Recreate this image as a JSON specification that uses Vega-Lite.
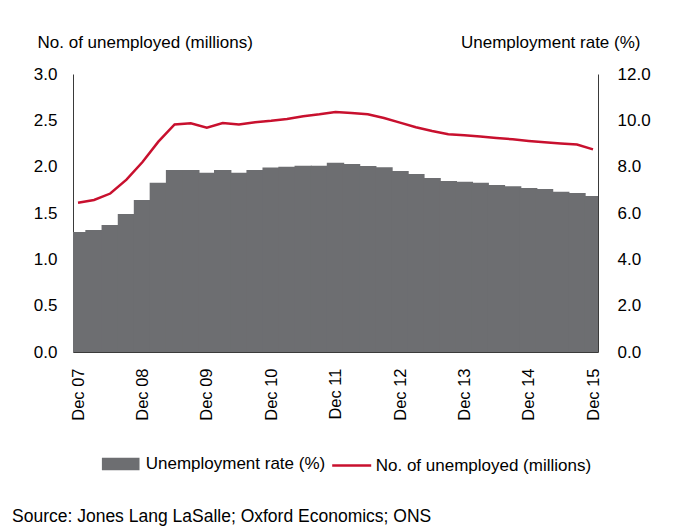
{
  "$schema": "https://vega.github.io/schema/vega-lite/v6.json",
  "width": 525,
  "height": 278,
  "autosize": {"type": "none"},
  "padding": {"left": 73, "top": 74, "right": 76, "bottom": 177},
  "background": "white",
  "config": {
    "view": {"stroke": null},
    "font": "Liberation Sans",
    "axis": {
      "grid": false,
      "ticks": false,
      "tickSize": 0,
      "domainColor": "#3a3a3a",
      "domainWidth": 1,
      "labelFont": "Liberation Sans",
      "labelFontSize": 17,
      "labelColor": "#000",
      "labelFlush": false,
      "labelOverlap": false,
      "labelBound": false,
      "titleFont": "Liberation Sans",
      "titleFontSize": 17,
      "titleFontWeight": "normal",
      "titleColor": "#000"
    },
    "legend": {
      "labelFont": "Liberation Sans",
      "labelFontSize": 17,
      "labelColor": "#000",
      "labelLimit": 0,
      "padding": 0
    }
  },
  "title": {
    "text": "Source: Jones Lang LaSalle; Oxford Economics; ONS",
    "orient": "bottom",
    "anchor": "start",
    "frame": "group",
    "dx": -61,
    "offset": 34,
    "font": "Liberation Sans",
    "fontSize": 17.5,
    "fontWeight": "normal",
    "color": "#000"
  },
  "data": {
    "values": [
      {"date": "2007-12-01", "rate": 5.18, "unemployed": 1.61},
      {"date": "2008-03-01", "rate": 5.27, "unemployed": 1.64},
      {"date": "2008-06-01", "rate": 5.48, "unemployed": 1.71},
      {"date": "2008-09-01", "rate": 5.96, "unemployed": 1.86},
      {"date": "2008-12-01", "rate": 6.56, "unemployed": 2.05},
      {"date": "2009-03-01", "rate": 7.31, "unemployed": 2.27},
      {"date": "2009-06-01", "rate": 7.86, "unemployed": 2.455},
      {"date": "2009-09-01", "rate": 7.86, "unemployed": 2.468},
      {"date": "2009-12-01", "rate": 7.74, "unemployed": 2.42},
      {"date": "2010-03-01", "rate": 7.86, "unemployed": 2.47},
      {"date": "2010-06-01", "rate": 7.74, "unemployed": 2.455},
      {"date": "2010-09-01", "rate": 7.86, "unemployed": 2.48},
      {"date": "2010-12-01", "rate": 7.96, "unemployed": 2.495},
      {"date": "2011-03-01", "rate": 8.0, "unemployed": 2.515},
      {"date": "2011-06-01", "rate": 8.04, "unemployed": 2.545},
      {"date": "2011-09-01", "rate": 8.04, "unemployed": 2.565},
      {"date": "2011-12-01", "rate": 8.17, "unemployed": 2.59},
      {"date": "2012-03-01", "rate": 8.11, "unemployed": 2.58},
      {"date": "2012-06-01", "rate": 8.03, "unemployed": 2.565},
      {"date": "2012-09-01", "rate": 7.97, "unemployed": 2.525},
      {"date": "2012-12-01", "rate": 7.81, "unemployed": 2.475},
      {"date": "2013-03-01", "rate": 7.68, "unemployed": 2.425},
      {"date": "2013-06-01", "rate": 7.51, "unemployed": 2.385},
      {"date": "2013-09-01", "rate": 7.38, "unemployed": 2.35},
      {"date": "2013-12-01", "rate": 7.35, "unemployed": 2.34},
      {"date": "2014-03-01", "rate": 7.31, "unemployed": 2.325},
      {"date": "2014-06-01", "rate": 7.21, "unemployed": 2.31},
      {"date": "2014-09-01", "rate": 7.16, "unemployed": 2.295},
      {"date": "2014-12-01", "rate": 7.08, "unemployed": 2.278},
      {"date": "2015-03-01", "rate": 7.04, "unemployed": 2.264},
      {"date": "2015-06-01", "rate": 6.92, "unemployed": 2.25},
      {"date": "2015-09-01", "rate": 6.86, "unemployed": 2.238},
      {"date": "2015-12-01", "rate": 6.73, "unemployed": 2.187}
    ]
  },
  "layer": [
    {
      "mark": {"type": "bar", "clip": true, "width": 17.4},
      "encoding": {
        "x": {
          "field": "date",
          "type": "temporal",
          "scale": {
            "type": "utc",
            "nice": false,
            "domain": [
              {"year": 2007, "month": 12, "date": 1, "utc": true},
              {"year": 2015, "month": 12, "date": 1, "utc": true}
            ]
          },
          "axis": {
            "title": null,
            "orient": "bottom",
            "labelAngle": 270,
            "labelAlign": "right",
            "labelBaseline": "middle",
            "labelFontSize": 16.5,
            "labelPadding": 16,
            "format": "%b %y",
            "values": [
              {"year": 2007, "month": 12, "date": 1, "utc": true},
              {"year": 2008, "month": 12, "date": 1, "utc": true},
              {"year": 2009, "month": 12, "date": 1, "utc": true},
              {"year": 2010, "month": 12, "date": 1, "utc": true},
              {"year": 2011, "month": 12, "date": 1, "utc": true},
              {"year": 2012, "month": 12, "date": 1, "utc": true},
              {"year": 2013, "month": 12, "date": 1, "utc": true},
              {"year": 2014, "month": 12, "date": 1, "utc": true},
              {"year": 2015, "month": 12, "date": 1, "utc": true}
            ]
          }
        },
        "y": {
          "field": "rate",
          "type": "quantitative",
          "scale": {"domain": [0, 12], "nice": false},
          "axis": {
            "orient": "right",
            "title": "Unemployment rate (%)",
            "titleAngle": 0,
            "titleAlign": "right",
            "titleBaseline": "middle",
            "titleX": 42,
            "titleY": -32,
            "labelPadding": 19,
            "values": [0, 2, 4, 6, 8, 10, 12],
            "format": ".1f"
          }
        },
        "fill": {
          "datum": "Unemployment rate (%)",
          "type": "nominal",
          "scale": {"range": ["#6d6e71"]},
          "legend": {
            "title": null,
            "orient": "none",
            "legendX": 28.7,
            "legendY": 371,
            "symbolType": "M-1,-0.327H1V0.327H-1Z",
            "symbolSize": 1414,
            "symbolStrokeWidth": 0,
            "labelOffset": 6
          }
        }
      }
    },
    {
      "mark": {"type": "line", "strokeWidth": 2.5},
      "encoding": {
        "x": {
          "field": "date",
          "type": "temporal"
        },
        "y": {
          "field": "unemployed",
          "type": "quantitative",
          "scale": {"domain": [0, 3], "nice": false},
          "axis": {
            "orient": "left",
            "title": "No. of unemployed (millions)",
            "titleAngle": 0,
            "titleAlign": "left",
            "titleBaseline": "middle",
            "titleX": -36,
            "titleY": -32,
            "labelPadding": 16,
            "values": [0, 0.5, 1, 1.5, 2, 2.5, 3],
            "format": ".1f"
          }
        },
        "stroke": {
          "datum": "No. of unemployed (millions)",
          "type": "nominal",
          "scale": {"range": ["#c8102e"]},
          "legend": {
            "title": null,
            "orient": "none",
            "legendX": 257.7,
            "legendY": 370.5,
            "symbolType": "stroke",
            "symbolSize": 1521,
            "symbolStrokeWidth": 2.5,
            "labelOffset": 3
          }
        }
      }
    }
  ],
  "resolve": {"scale": {"y": "independent"}}
}
